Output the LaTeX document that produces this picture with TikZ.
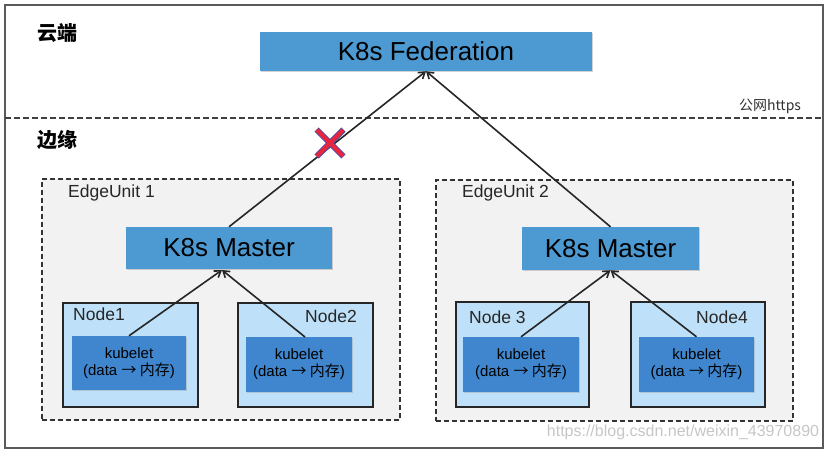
\documentclass[tikz,border=0pt]{standalone}
\usepackage{fontspec}
\setmainfont{Liberation Sans}
\newfontfamily\cjk{Noto Sans CJK SC}
\usetikzlibrary{arrows.meta,shadows}
\definecolor{fedblue}{HTML}{4D9AD3}
\definecolor{kubeblue}{HTML}{3F86CF}
\definecolor{nodeblue}{HTML}{BEE0F8}
\definecolor{unitgray}{HTML}{F2F2F2}
\definecolor{framegray}{HTML}{5A5A5A}
\definecolor{xred}{HTML}{E8253A}
\definecolor{xblue}{HTML}{4A4FA8}
\tikzset{
  bigbox/.style={rectangle, fill=fedblue, inner sep=0pt, font=\fontsize{26}{30}\selectfont,
     drop shadow={shadow xshift=1pt, shadow yshift=-1.2pt, opacity=0.35}},
  unitbox/.style={rectangle, draw=black!80, fill=unitgray, line width=1.3pt, dash pattern=on 5pt off 3pt, inner sep=0pt},
  nodebox/.style={rectangle, draw=black!85, fill=nodeblue, line width=1.5pt, inner sep=0pt},
  kubebox/.style={rectangle, fill=kubeblue, inner sep=0pt, align=center, font=\fontsize{15}{17}\selectfont,
     drop shadow={shadow xshift=1pt, shadow yshift=-1pt, opacity=0.3}},
  lbl/.style={inner sep=0pt, font=\fontsize{17.5}{20}\selectfont, text=black!85},
  conn/.style={line width=1.6pt, draw=black!85, -{Straight Barb[length=6pt,width=8pt]}},
}
\begin{document}
\begin{tikzpicture}[x=1pt,y=-1pt]
\useasboundingbox (0,0) rectangle (828,451);
\fill[white] (0,0) rectangle (828,451);
% outer frame
\draw[framegray, line width=1.5pt] (5,5) rectangle (823,448);
% separator
\coordinate (sepL) at (5,118);
\coordinate (sepR) at (823,118);
\draw[black!75, line width=1.5pt, dash pattern=on 6pt off 3pt] (sepL) -- (sepR);
% section labels
\node[inner sep=0pt, font=\cjk\bfseries\fontsize{20}{22}\selectfont] (cloud) at (57,33) {云端};
\node[inner sep=0pt, font=\cjk\bfseries\fontsize{20}{22}\selectfont] (edge) at (57,140) {边缘};
\node[inner sep=0pt, font=\cjk\fontsize{14}{16}\selectfont, text=black!80] (https) at (770,106) {公网https};
% federation
\node[bigbox, minimum width=332pt, minimum height=39pt] (fed) at (426,51.5) {K8s Federation};
% edge units
\node[unitbox, minimum width=358pt, minimum height=241pt] (eu1) at (221,299.5) {};
\node[unitbox, minimum width=357pt, minimum height=241pt] (eu2) at (614.5,300.5) {};
\node[lbl, anchor=west] (eu1l) at (68,193) {EdgeUnit 1};
\node[lbl, anchor=west] (eu2l) at (462,193) {EdgeUnit 2};
% masters
\node[bigbox, minimum width=206pt, minimum height=42pt] (m1) at (229,248) {K8s Master};
\node[bigbox, minimum width=177pt, minimum height=43pt] (m2) at (610.5,248.5) {K8s Master};
% worker nodes
\node[nodebox, minimum width=135pt, minimum height=104pt] (n1) at (130.5,355) {};
\node[nodebox, minimum width=135pt, minimum height=104pt] (n2) at (305.5,355) {};
\node[nodebox, minimum width=133pt, minimum height=105pt] (n3) at (522.5,354.5) {};
\node[nodebox, minimum width=134pt, minimum height=105pt] (n4) at (698,354.5) {};
\node[lbl, anchor=west] (n1l) at (73,314) {Node1};
\node[lbl, anchor=east] (n2l) at (357,316) {Node2};
\node[lbl, anchor=west] (n3l) at (469,317) {Node 3};
\node[lbl, anchor=east] (n4l) at (748,317) {Node4};
% kubelets
\node[kubebox, minimum width=114pt, minimum height=54pt] (k1) at (129,363) {kubelet\\(data {\cjk → 内存})};
\node[kubebox, minimum width=106pt, minimum height=55pt] (k2) at (299,364.5) {kubelet\\(data {\cjk → 内存})};
\node[kubebox, minimum width=116pt, minimum height=55pt] (k3) at (521,364.5) {kubelet\\(data {\cjk → 内存})};
\node[kubebox, minimum width=115pt, minimum height=55pt] (k4) at (696.5,364.5) {kubelet\\(data {\cjk → 内存})};
% connectors
\coordinate (m1in) at (222,270);
\coordinate (k2out) at (305,337);
\draw[conn] (k1.north) -- (m1in);
\draw[conn] (k2out) -- (m1in);
\draw[conn] (k3.north) -- (m2.south);
\draw[conn] (k4.north) -- (m2.south);
\draw[conn] (m1.north) -- (fed.south);
\draw[conn] (m2.north) -- (fed.south);
% red cross
\coordinate (xc) at (330,143);
\foreach \a in {45,135}{
  \draw[xblue, line width=6pt] ([shift={(\a:19pt)}]xc) -- ([shift={(\a+180:19pt)}]xc);
}
\foreach \a in {45,135}{
  \draw[xred, line width=4pt] ([shift={(\a:18.5pt)}]xc) -- ([shift={(\a+180:18.5pt)}]xc);
}
% watermark
\node[inner sep=0pt, font=\fontsize{16}{18}\selectfont, text=black!22] (wm) at (683,432) {https://blog.csdn.net/weixin\_43970890};
\end{tikzpicture}
\end{document}
